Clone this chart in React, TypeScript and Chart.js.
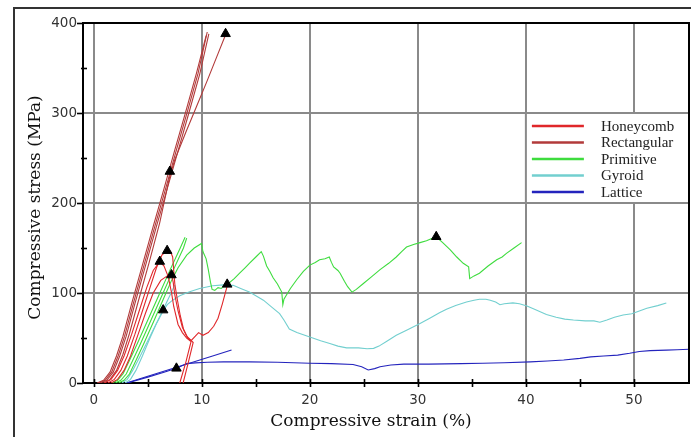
import { useEffect, useRef } from "react";
import { Chart, registerables } from "chart.js";

Chart.register(...registerables);

type Pt = [number, number];

// Strain (%) / stress (MPa) traces per lattice type
const honeycombA: Pt[] = [
  [1.3, 0], [1.9, 4], [2.5, 14], [3.1, 30], [3.8, 54], [4.5, 80], [5.2, 106], [5.8, 128],
  [6.3, 142], [6.79, 147], [7.1, 146], [7.3, 140], [7.4, 125], [7.5, 110], [7.7, 95],
  [8.0, 75], [8.3, 60], [8.7, 50], [9.0, 47], [9.4, 52], [9.7, 56], [10.1, 53], [10.6, 56],
  [11.1, 63], [11.5, 72], [11.9, 88], [12.35, 108],
];
const honeycombB: Pt[] = [
  [1.0, 0], [1.6, 4], [2.2, 14], [2.8, 30], [3.5, 54], [4.2, 80], [4.9, 106], [5.5, 125],
  [6.11, 135], [6.5, 130], [6.9, 118], [7.2, 100], [7.4, 85], [7.8, 65], [8.2, 56],
  [8.6, 50], [9.0, 46], [8.5, 22], [7.96, 0],
];
const honeycombC: Pt[] = [
  [1.6, 0], [2.2, 4], [2.8, 14], [3.4, 30], [4.1, 54], [4.8, 78], [5.5, 100], [6.2, 114],
  [6.8, 119], [7.19, 120], [7.35, 112], [7.5, 98], [7.8, 80], [8.2, 62], [8.6, 52],
  [9.2, 45], [8.75, 23], [8.27, 0],
];

const rectangularA: Pt[] = [
  [0.3, 0], [0.9, 3], [1.5, 12], [2.1, 30], [2.7, 52], [3.5, 88], [4.5, 131], [5.5, 174],
  [6.5, 216], [7.5, 259], [8.5, 301], [9.5, 344], [10.4, 386],
];
const rectangularB: Pt[] = [
  [0.6, 0], [1.2, 3], [1.8, 12], [2.4, 30], [3.0, 52], [3.8, 88], [4.8, 131], [5.8, 174],
  [6.8, 216], [7.8, 258], [8.8, 300], [9.8, 343], [10.65, 388],
];
const rectangularC: Pt[] = [
  [0.45, 0], [1.05, 3], [1.65, 12], [2.25, 30], [2.85, 52], [3.65, 88], [4.65, 131],
  [5.65, 174], [6.65, 216], [7.65, 259], [8.65, 301], [9.65, 344], [10.5, 390],
];
const rectangularD: Pt[] = [
  [0.9, 0], [1.5, 4], [2.1, 14], [2.7, 32], [3.3, 55], [4.1, 90], [5.1, 133], [6.1, 178],
  [7.0, 228], [7.5, 248], [8.5, 278], [9.5, 307], [10.5, 336], [11.5, 366], [12.2, 387],
];

const primitiveA: Pt[] = [
  [1.7, 0], [2.2, 3], [2.7, 10], [3.3, 25], [4.0, 43], [5.0, 70], [6.0, 97], [7.0, 124],
  [8.0, 150], [8.45, 162],
];
const primitiveB: Pt[] = [
  [2.0, 0], [2.5, 3], [3.0, 10], [3.6, 25], [4.3, 43], [5.3, 70], [6.3, 97], [7.3, 124],
  [8.3, 150], [8.6, 161],
];
const primitiveC: Pt[] = [
  [2.3, 0], [2.8, 3], [3.3, 10], [3.9, 25], [4.6, 43], [5.6, 70], [6.5, 95], [7.2, 114],
  [7.8, 128], [8.6, 142], [9.3, 150], [9.97, 155], [10.1, 146], [10.4, 138], [10.6, 126],
  [10.8, 112], [10.95, 104], [11.2, 103], [11.5, 106], [11.8, 105], [12.2, 109], [12.6, 112],
  [13.0, 116], [13.5, 122], [14.0, 128], [14.4, 133], [15.0, 140], [15.5, 146], [15.7, 141],
  [16.0, 130], [16.3, 124], [16.6, 117], [17.0, 110], [17.4, 101], [17.5, 87], [17.6, 93],
  [18.2, 105], [18.8, 115], [19.4, 124], [20.0, 131], [20.5, 134], [20.9, 137], [21.4, 138],
  [21.8, 140], [22.0, 134], [22.2, 129], [22.6, 125], [22.8, 122], [23.2, 113], [23.5, 107],
  [23.9, 101], [24.3, 104], [24.9, 110], [25.7, 118], [26.5, 126], [27.3, 133], [28.0, 140],
  [28.5, 146], [28.95, 151], [29.6, 154], [30.2, 156], [30.8, 158], [31.4, 161], [31.7, 162.5],
  [32.3, 156], [33.0, 148], [33.6, 140], [34.2, 133], [34.7, 129], [34.8, 116], [35.2, 119],
  [35.7, 122], [36.5, 130], [37.3, 137], [37.8, 140], [38.2, 144], [38.9, 150], [39.6, 156],
];

const gyroidA: Pt[] = [
  [2.6, 0], [3.1, 4], [3.6, 14], [4.3, 30], [5.0, 47], [6.0, 71], [7.0, 96], [7.5, 109],
];
const gyroidB: Pt[] = [
  [2.9, 0], [3.4, 4], [3.9, 14], [4.5, 30], [5.2, 50], [5.8, 66], [6.42, 80], [6.8, 87],
  [7.3, 92], [7.96, 97], [8.8, 101], [9.8, 105], [11.0, 108], [12.0, 109], [12.9, 108.5],
  [13.6, 105], [14.4, 101], [15.0, 97], [15.7, 92], [16.5, 84], [17.2, 77], [17.6, 70],
  [18.1, 60], [18.8, 56], [20.0, 51], [21.0, 47], [21.85, 44], [22.6, 41], [23.4, 39],
  [24.5, 39], [25.3, 38], [25.9, 38.5], [26.4, 41], [27.2, 47], [28.0, 53], [29.0, 59],
  [30.2, 66], [31.1, 72], [32.0, 78], [32.65, 82], [33.5, 86], [34.5, 90], [35.2, 92],
  [35.7, 93], [36.3, 93], [36.7, 92], [37.2, 90], [37.6, 87], [38.0, 88], [38.8, 89],
  [39.4, 88], [40.1, 85.6], [40.8, 82], [41.9, 76], [42.8, 73], [43.6, 71], [44.4, 70],
  [45.5, 69], [46.3, 69], [46.85, 67.5], [47.5, 70], [48.2, 73], [49.0, 75.5], [49.8, 77],
  [50.5, 80], [51.2, 83], [52.2, 86], [53.0, 89],
];

const latticeA: Pt[] = [
  [3.0, 0], [5.0, 7.5], [7.0, 15], [9.0, 22.5], [11.0, 30], [12.75, 36.7],
];
const latticeB: Pt[] = [
  [3.1, 0], [5.0, 6.5], [6.5, 12], [7.65, 16.3], [8.2, 19.5], [8.6, 21.5], [9.4, 22.4],
  [10.5, 23], [12.0, 23.5], [14.4, 23.5], [17.0, 23], [20.0, 22], [22.0, 21.5], [24.0, 20.5],
  [24.8, 18], [25.4, 14.5], [26.0, 16], [26.5, 18], [27.5, 20], [28.7, 21], [31.0, 21],
  [34.0, 21.5], [36.0, 22], [38.0, 22.5], [40.4, 23.5], [42.0, 24.5], [43.5, 25.5],
  [45.0, 27.4], [46.0, 29], [47.2, 30], [48.5, 31], [49.6, 33], [50.5, 35], [51.5, 36],
  [53.0, 36.5], [54.0, 37], [55.2, 37.5],
];

// Failure / peak markers
const failurePoints: Pt[] = [
  [6.11, 135], [6.79, 147], [7.19, 120], [6.42, 81], [12.35, 109.6], [7.65, 16.3],
  [7.04, 235], [12.2, 388], [31.7, 162.5],
];

const seriesNames = ["Honeycomb", "Rectangular", "Primitive", "Gyroid", "Lattice"];
const seriesColors = ["#e0272a", "#b23a3a", "#3edc3e", "#72cfcf", "#2424bd"];
const seriesTraces: Pt[][][] = [
  [honeycombA, honeycombB, honeycombC],
  [rectangularA, rectangularB, rectangularC, rectangularD],
  [primitiveA, primitiveB, primitiveC],
  [gyroidA, gyroidB],
  [latticeA, latticeB],
];

const xTickValues = [0, 5, 10, 15, 20, 25, 30, 35, 40, 45, 50];
const yTickValues = [0, 50, 100, 150, 200, 250, 300, 350, 400];
const xTitle = "Compressive strain (%)";
const yTitle = "Compressive stress (MPa)";

const GRID = "#8a8a8a";

const decorations = {
  id: "decorations",
  afterDatasetsDraw(chart: any) {
    const { ctx, chartArea: a, scales } = chart;
    const x = scales.x;
    const y = scales.y;
    // legend panel occupying the upper-right grid cell
    const left = x.getPixelForValue(40);
    const top = y.getPixelForValue(300);
    const bottom = y.getPixelForValue(200);
    ctx.save();
    ctx.fillStyle = "#fff";
    ctx.fillRect(left, top, a.right - left, bottom - top);
    ctx.strokeStyle = GRID;
    ctx.lineWidth = 2;
    ctx.strokeRect(left, top, a.right - left, bottom - top);
    const step = (bottom - top - 24) / 4;
    seriesNames.forEach((name, i) => {
      const ry = top + 13 + i * step;
      ctx.strokeStyle = seriesColors[i];
      ctx.lineWidth = 2.5;
      ctx.beginPath();
      ctx.moveTo(left + 6, ry);
      ctx.lineTo(left + 58, ry);
      ctx.stroke();
      ctx.fillStyle = "#222";
      ctx.font = "15px 'Liberation Serif', serif";
      ctx.textAlign = "left";
      ctx.textBaseline = "alphabetic";
      ctx.fillText(name, left + 75, ry + 4.5);
    });
    ctx.restore();
  },
  afterDraw(chart: any) {
    const { ctx, chartArea: a, scales } = chart;
    const x = scales.x;
    const y = scales.y;
    ctx.save();
    ctx.strokeStyle = "#000";
    ctx.lineWidth = 1.6;
    // tick marks
    xTickValues.forEach((v) => {
      const px = Math.round(x.getPixelForValue(v)) + 0.5;
      ctx.beginPath();
      ctx.moveTo(px, a.bottom - 4);
      ctx.lineTo(px, a.bottom + 4);
      ctx.stroke();
    });
    yTickValues.forEach((v) => {
      const py = Math.round(y.getPixelForValue(v)) + 0.5;
      ctx.beginPath();
      if (v % 100 === 0) {
        ctx.moveTo(a.left - 6, py);
        ctx.lineTo(a.left, py);
      } else {
        ctx.moveTo(a.left - 2, py);
        ctx.lineTo(a.left + 4, py);
      }
      ctx.stroke();
    });
    // plot frame: top and right sides
    ctx.lineWidth = 2;
    ctx.beginPath();
    ctx.moveTo(a.left, a.top);
    ctx.lineTo(a.right, a.top);
    ctx.lineTo(a.right, a.bottom);
    ctx.stroke();
    // outer figure border
    ctx.strokeStyle = "#333";
    ctx.lineWidth = 2;
    ctx.beginPath();
    ctx.moveTo(14, chart.height);
    ctx.lineTo(14, 8);
    ctx.lineTo(chart.width, 8);
    ctx.stroke();
    // axis titles
    ctx.fillStyle = "#111";
    ctx.font = "17px 'DejaVu Serif', serif";
    ctx.textAlign = "center";
    ctx.textBaseline = "alphabetic";
    ctx.fillText(xTitle, 371, 426);
    ctx.translate(39.5, 207.5);
    ctx.rotate(-Math.PI / 2);
    ctx.fillText(yTitle, 0, 0);
    ctx.restore();
  },
};

export default function App() {
  const canvasRef = useRef<HTMLCanvasElement | null>(null);

  useEffect(() => {
    if (!canvasRef.current) return;
    const datasets: any[] = [
      {
        label: "failure",
        data: failurePoints.map(([px, py]) => ({ x: px, y: py })),
        showLine: false,
        pointStyle: "triangle",
        pointRadius: 5.5,
        backgroundColor: "#000",
        borderColor: "#000",
        borderWidth: 1,
      },
    ];
    seriesTraces.forEach((traces, i) => {
      traces.forEach((trace) => {
        datasets.push({
          label: seriesNames[i],
          data: trace.map(([px, py]) => ({ x: px, y: py })),
          showLine: true,
          borderColor: seriesColors[i],
          borderWidth: 1.1,
          pointRadius: 0,
          tension: 0,
        });
      });
    });

    const chart = new Chart(canvasRef.current, {
      type: "scatter",
      data: { datasets },
      plugins: [decorations],
      options: {
        animation: false,
        responsive: false,
        events: [],
        layout: { autoPadding: false, padding: { top: 23, right: 2, left: 0, bottom: 0 } },
        plugins: { legend: { display: false }, tooltip: { enabled: false } },
        scales: {
          x: {
            type: "linear",
            min: -1,
            max: 55.1,
            afterBuildTicks: (s: any) => {
              s.ticks = xTickValues.map((v) => ({ value: v }));
            },
            afterFit: (s: any) => {
              s.height = 54;
              s.paddingLeft = 0;
              s.paddingRight = 0;
            },
            grid: {
              color: (c: any) => (c.tick && c.tick.value % 10 === 0 ? GRID : "transparent"),
              lineWidth: 2,
              drawTicks: false,
            },
            border: { color: "#000", width: 2 },
            ticks: {
              callback: (v: any) => (Number(v) % 10 === 0 ? String(v) : ""),
              padding: 9,
              autoSkip: false,
              maxRotation: 0,
              color: "#333",
              font: { family: "'DejaVu Sans', sans-serif", size: 13.5 },
            },
          },
          y: {
            type: "linear",
            min: 0,
            max: 400,
            afterBuildTicks: (s: any) => {
              s.ticks = yTickValues.map((v) => ({ value: v }));
            },
            afterFit: (s: any) => {
              s.width = 83;
              s.paddingTop = 0;
              s.paddingBottom = 0;
            },
            grid: {
              color: (c: any) => (c.tick && c.tick.value % 100 === 0 ? GRID : "transparent"),
              lineWidth: 2,
              drawTicks: false,
            },
            border: { color: "#000", width: 2 },
            ticks: {
              callback: (v: any) => (Number(v) % 100 === 0 ? String(v) : ""),
              padding: 6,
              autoSkip: false,
              color: "#333",
              font: { family: "'DejaVu Sans', sans-serif", size: 13.5 },
            },
          },
        },
      },
    });
    return () => chart.destroy();
  }, []);

  return (
    <div style={{ position: "absolute", left: 0, top: 0, width: 691, height: 437, background: "#fff" }}>
      <canvas ref={canvasRef} width={691} height={437} style={{ display: "block" }} />
    </div>
  );
}
